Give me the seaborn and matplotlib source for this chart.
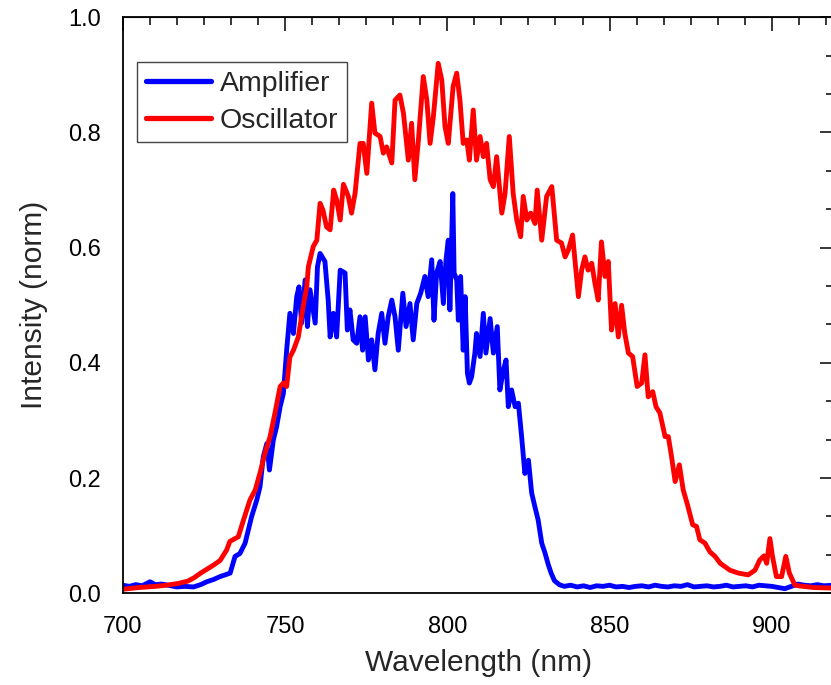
import numpy as np
import pandas as pd
import matplotlib
matplotlib.use("Agg")
import matplotlib.pyplot as plt
from matplotlib.ticker import MultipleLocator
import seaborn as sns

# ---- data ----
osc_wl = [700, 705, 710, 713.5, 717, 720, 722, 724, 726, 728, 730, 732, 733, 735.6, 737.2, 739.2,
          740.8, 742.3, 743.8, 745.4, 746.9, 748.5, 749.5, 750.5, 751.5, 752.6, 754.1, 755.6, 756.7,
          757.2, 758.7, 759.8, 760.8, 761.7, 762.8, 763.9, 765.0, 765.9, 767, 768, 769.5, 770.5,
          771.6, 773.1, 774.1, 775.2, 776.7, 777.7, 779.3, 780.3, 781.3, 782.9, 783.9, 785.4, 786.5,
          788, 789, 790, 791.1, 792.6, 793.7, 794.7, 795.7, 797.2, 798.3, 799.3, 800.3, 801.8, 802.9,
          803.9, 804.9, 806, 806.8, 808, 809, 810.1, 811.1, 812.1, 813.2, 814.2, 815.2, 816.8, 817.8,
          819.1, 820.3, 821.4, 822.6, 823.4, 824.5, 825.7, 827, 827.7, 829.1, 830.6, 832.2, 833.7,
          835.2, 836.3, 837.3, 838.6, 840.4, 841.4, 842.4, 843.4, 844.5, 845.5, 846.5, 847.5, 848.6,
          849.6, 850.6, 851.7, 852.7, 853.7, 854.7, 855.8, 857.1, 858.5, 859.9, 860.9, 861.9, 863.3,
          864.3, 865.5, 867.1, 868.1, 869.1, 870.2, 871.5, 872.7, 873.9, 875.6, 876.8, 877.8, 879.4,
          880.9, 882.5, 884.1, 887.1, 889.7, 892.7, 894.8, 896.3, 897.6, 898.4, 899.4, 900.2, 901.4,
          903, 904.3, 905.4, 907.1, 909.7, 912.8, 919]
osc_val = [0.007, 0.010, 0.012, 0.014, 0.017, 0.021, 0.027, 0.035, 0.042, 0.049, 0.057, 0.075, 0.090,
           0.098, 0.127, 0.162, 0.179, 0.209, 0.243, 0.272, 0.313, 0.359, 0.365, 0.359, 0.410, 0.422,
           0.445, 0.498, 0.532, 0.567, 0.602, 0.613, 0.677, 0.665, 0.636, 0.631, 0.700, 0.683, 0.648,
           0.710, 0.689, 0.660, 0.695, 0.781, 0.781, 0.729, 0.851, 0.799, 0.793, 0.764, 0.775, 0.747,
           0.856, 0.865, 0.833, 0.752, 0.816, 0.718, 0.787, 0.897, 0.856, 0.781, 0.827, 0.920, 0.891,
           0.810, 0.781, 0.880, 0.903, 0.856, 0.781, 0.787, 0.752, 0.839, 0.752, 0.793, 0.758, 0.781,
           0.718, 0.706, 0.758, 0.660, 0.694, 0.793, 0.694, 0.648, 0.619, 0.689, 0.648, 0.660, 0.642,
           0.700, 0.613, 0.689, 0.706, 0.613, 0.608, 0.584, 0.596, 0.622, 0.515, 0.561, 0.584, 0.561,
           0.573, 0.538, 0.509, 0.610, 0.550, 0.576, 0.457, 0.503, 0.445, 0.500, 0.451, 0.417, 0.411,
           0.359, 0.365, 0.414, 0.341, 0.350, 0.324, 0.313, 0.272, 0.272, 0.237, 0.194, 0.223, 0.179,
           0.156, 0.119, 0.116, 0.093, 0.087, 0.072, 0.064, 0.052, 0.040, 0.035, 0.032, 0.040, 0.058,
           0.065, 0.052, 0.095, 0.064, 0.029, 0.029, 0.064, 0.035, 0.014, 0.012, 0.010, 0.009]

amp_wl = [700, 702, 704, 706, 708.4, 710, 712, 714, 716.6, 719, 721.8, 724, 725.9, 728, 730, 733.1,
          734.6, 736.1, 737.7, 738.7, 739.7, 741.3, 742.3, 743.3, 744.4, 745.2, 746.4, 747.4, 748.5,
          749.5, 750.5, 751.5, 752.6, 753.6, 754.3, 755.1, 756.2, 756.9, 757.7, 759.3, 760, 760.8,
          762.3, 763.3, 763.9, 764.9, 765.9, 767, 768.5, 769.2, 770, 771, 772.1, 773.1, 773.9, 774.7,
          775.7, 776.7, 777.7, 778.7, 779.8, 780.8, 781.8, 782.9, 783.9, 784.9, 786.3, 787.3, 788.5,
          789.5, 790.6, 791.8, 793.1, 794.1, 795.2, 795.9, 796.7, 797.8, 798.8, 799.6, 800.3, 800.8,
          801.7, 802.1, 802.9, 803.4, 804.1, 804.9, 805.5, 806.2, 806.8, 807.5, 808.5, 809, 810.1,
          811.1, 811.9, 813.2, 814.2, 815.4, 816.2, 817.3, 818.1, 818.8, 819.8, 820.9, 821.9, 822.9,
          823.9, 825, 826, 827, 828, 829.1, 830.1, 831.1, 832, 833, 834.5, 836, 838, 840, 842, 844,
          846, 848, 850, 852, 854, 856, 858, 860, 862, 864, 866, 868, 870, 872, 874, 876, 878, 880,
          882, 884, 886, 888, 890, 892, 894, 896, 898, 900, 902, 904, 906, 908, 910, 912, 914, 916, 919]
amp_val = [0.014, 0.012, 0.015, 0.013, 0.020, 0.015, 0.016, 0.014, 0.011, 0.012, 0.011, 0.015, 0.020,
           0.024, 0.029, 0.035, 0.064, 0.069, 0.087, 0.110, 0.133, 0.162, 0.185, 0.237, 0.260, 0.214,
           0.266, 0.289, 0.324, 0.347, 0.422, 0.486, 0.451, 0.515, 0.532, 0.469, 0.544, 0.463, 0.527,
           0.469, 0.567, 0.590, 0.576, 0.509, 0.445, 0.486, 0.445, 0.561, 0.556, 0.457, 0.492, 0.440,
           0.434, 0.480, 0.422, 0.480, 0.405, 0.440, 0.388, 0.451, 0.486, 0.434, 0.480, 0.509, 0.480,
           0.422, 0.521, 0.463, 0.503, 0.440, 0.503, 0.521, 0.550, 0.515, 0.579, 0.474, 0.556, 0.576,
           0.503, 0.579, 0.613, 0.492, 0.694, 0.556, 0.544, 0.474, 0.550, 0.422, 0.515, 0.382, 0.365,
           0.376, 0.417, 0.451, 0.411, 0.486, 0.417, 0.477, 0.417, 0.463, 0.353, 0.388, 0.405, 0.324,
           0.353, 0.324, 0.330, 0.272, 0.208, 0.231, 0.174, 0.150, 0.127, 0.087, 0.070, 0.050, 0.035,
           0.022, 0.015, 0.012, 0.014, 0.011, 0.013, 0.010, 0.013, 0.012, 0.014, 0.011, 0.012, 0.010,
           0.012, 0.013, 0.011, 0.014, 0.012, 0.011, 0.013, 0.012, 0.015, 0.011, 0.012, 0.013, 0.011,
           0.012, 0.014, 0.011, 0.012, 0.013, 0.011, 0.014, 0.013, 0.012, 0.010, 0.008, 0.012, 0.016,
           0.014, 0.013, 0.015, 0.013, 0.014]

series_names = ["Amplifier", "Oscillator"]
series_colors = ["#0000FF", "#FF0000"]
x_label = "Wavelength (nm)"
y_label = "Intensity (norm)"
x_ticks = [700, 750, 800, 850, 900]
y_ticks = [0.0, 0.2, 0.4, 0.6, 0.8, 1.0]

df = pd.concat([
    pd.DataFrame({"wl": amp_wl, "val": amp_val, "series": series_names[0]}),
    pd.DataFrame({"wl": osc_wl, "val": osc_val, "series": series_names[1]}),
], ignore_index=True)

sns.set_style("white")
plt.rcParams["font.family"] = ["Liberation Sans", "DejaVu Sans"]

fig = plt.figure(figsize=(8.31, 6.85), dpi=100)
ax = fig.add_axes([0.1477, 0.1339, 0.8565, 0.8409])

sns.lineplot(data=df, x="wl", y="val", hue="series", hue_order=series_names,
             palette=dict(zip(series_names, series_colors)), estimator=None, sort=False,
             linewidth=3.5, ax=ax)

ax.set_xlim(700, 919.3)
ax.set_ylim(0, 1.0)
ax.set_xticks(x_ticks)
ax.set_yticks(y_ticks)
ax.set_yticklabels([f"{v:.1f}" for v in y_ticks])
ax.xaxis.set_minor_locator(MultipleLocator(50 / 6))
ax.yaxis.set_minor_locator(MultipleLocator(0.2 / 3))

for s in ax.spines.values():
    s.set_visible(True)
    s.set_color("black")
    s.set_linewidth(1.3)

ax.tick_params(which="both", direction="out", top=False, right=False, width=1.3, colors="black",
               labelsize=17)
ax.tick_params(which="major", length=10)
ax.tick_params(which="minor", length=6)
ax.tick_params(axis="x", which="major", pad=6)
ax.tick_params(axis="y", which="major", pad=6)

sec_x = ax.secondary_xaxis("top")
sec_x.set_xticks(x_ticks)
sec_x.xaxis.set_minor_locator(MultipleLocator(50 / 6))
sec_x.tick_params(which="both", direction="in", labeltop=False, width=1.3)
sec_x.tick_params(which="major", length=10)
sec_x.tick_params(which="minor", length=6)

sec_y = ax.secondary_yaxis("right")
sec_y.set_yticks(y_ticks)
sec_y.yaxis.set_minor_locator(MultipleLocator(0.2 / 3))
sec_y.tick_params(which="both", direction="in", labelright=False, width=1.3)
sec_y.tick_params(which="major", length=10)
sec_y.tick_params(which="minor", length=6)

ax.set_xlabel(x_label, fontsize=21.5, labelpad=8)
ax.set_ylabel(y_label, fontsize=21.5, labelpad=14)

leg = ax.legend(loc="upper left", bbox_to_anchor=(0.0205, 0.922), borderaxespad=0,
                fontsize=20.5, frameon=True, fancybox=False, framealpha=1,
                edgecolor="#444444", handlelength=2.3, handletextpad=0.3,
                labelspacing=0.38, borderpad=0.3)
leg.get_frame().set_linewidth(1.0)
for line in leg.get_lines():
    line.set_linewidth(3.8)

fig.savefig("out.png", dpi=100)
